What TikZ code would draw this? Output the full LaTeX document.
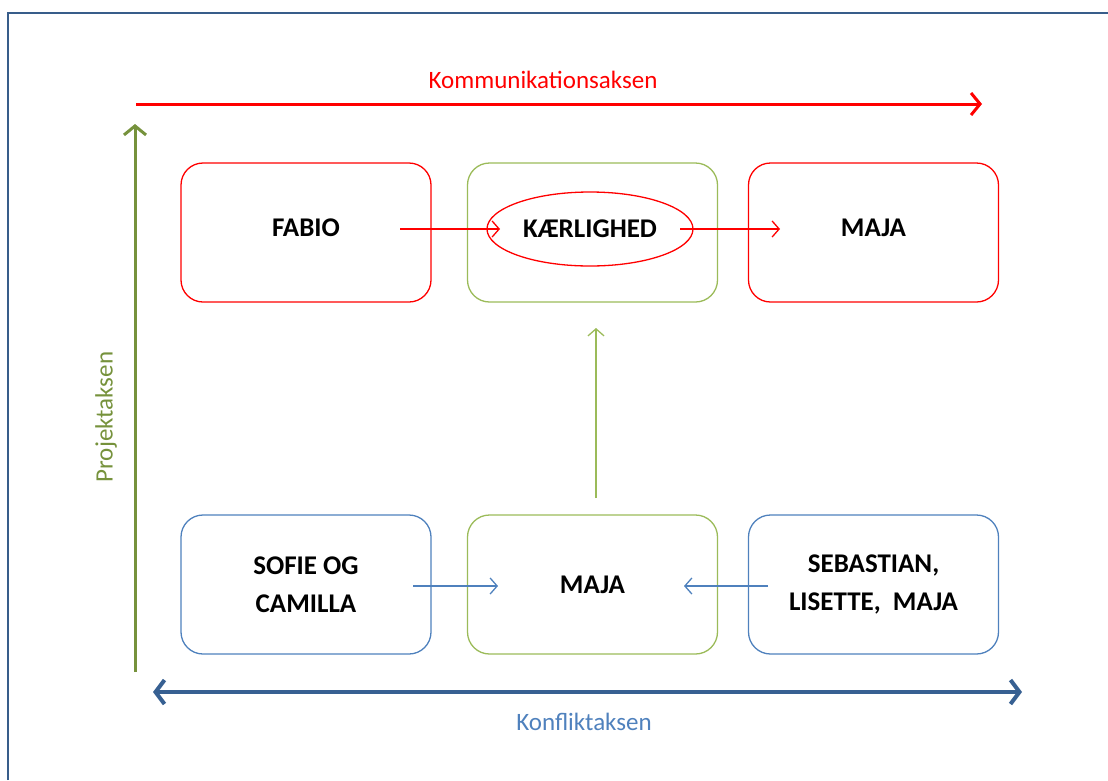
\documentclass[tikz,border=0pt]{standalone}
\usepackage{fontspec}
\setmainfont{Carlito}
\usetikzlibrary{arrows.meta,shapes.geometric}
\definecolor{frameblue}{RGB}{56,93,138}
\definecolor{boxblue}{RGB}{79,129,189}
\definecolor{axisblue}{RGB}{55,96,146}
\definecolor{boxgreen}{RGB}{155,187,89}
\definecolor{axisgreen}{RGB}{118,146,60}
\definecolor{boxred}{RGB}{255,0,0}

\begin{document}
\begin{tikzpicture}[x=1pt, y=-1pt,
  box/.style={draw, rounded corners=22pt, line width=1.3pt, minimum width=250pt,
    minimum height=139pt, inner sep=0pt, align=center,
    font=\bfseries\fontsize{27}{38}\selectfont},
  raised/.style={text depth=9pt},
  axislabel/.style={font=\fontsize{25}{28}\selectfont},
  thin arrow/.style={line width=1.3pt, -{Straight Barb[length=7pt,width=16pt]}}]
\useasboundingbox (0,0) rectangle (1108,780);
\draw [frameblue, line width=1.5pt] (8,780) -- (8,13) -- (1108,13);

% axes
\coordinate (kstart) at (136,104);
\coordinate (kend) at (982,104);
\draw [boxred, line width=3pt, -{Straight Barb[length=9pt,width=22pt]}] (kstart) -- (kend);
\node [axislabel, text=boxred] (kom) at (543,80) {Kommunikationsaksen};
\coordinate (pstart) at (135,672);
\coordinate (pend) at (135,124);
\draw [axisgreen, line width=3pt, -{Straight Barb[length=9pt,width=22pt]}] (pstart) -- (pend);
\node [axislabel, text=axisgreen, rotate=90] (proj) at (106,417) {Projektaksen};
\coordinate (fstart) at (153,692);
\coordinate (fend) at (1022,692);
\draw [axisblue, line width=4pt, {Straight Barb[length=9pt,width=24pt]}-{Straight Barb[length=9pt,width=24pt]}] (fstart) -- (fend);
\node [axislabel, text=boxblue] (konf) at (584,722) {Konfliktaksen};

% top row
\node [box, raised, boxred, text=black] (fabio) at (306,232.5) {FABIO};
\node [box, boxgreen] (mid) at (592.5,232.5) {};
\node [draw=boxred, line width=1.3pt, ellipse, minimum width=206pt, minimum height=74pt,
  inner sep=0pt, font=\bfseries\fontsize{27}{38}\selectfont] (love) at (590,229) {KÆRLIGHED};
\node [box, raised, boxred, text=black] (majat) at (873.5,232.5) {MAJA};

% bottom row
\node [box, boxblue, text=black] (sofie) at (306,584.5) {SOFIE OG\\CAMILLA};
\node [box, boxgreen, text=black] (majab) at (592.5,584.5) {MAJA};
\node [box, boxblue, text=black] (seb) at (873.5,584.5) {SEBASTIAN,\\LISETTE,~ MAJA};

% arrows
\coordinate (a1) at (400,229);
\coordinate (a2) at (500,229);
\coordinate (a3) at (680,229);
\coordinate (a4) at (780,229);
\draw [thin arrow, boxred] (a1) -- (a2);
\draw [thin arrow, boxred] (a3) -- (a4);
\coordinate (b1) at (596,498);
\coordinate (b2) at (596,328);
\draw [thin arrow, boxgreen] (b1) -- (b2);
\coordinate (c1) at (413,586);
\coordinate (c2) at (498,586);
\coordinate (c3) at (768,586);
\coordinate (c4) at (684,586);
\draw [thin arrow, boxblue] (c1) -- (c2);
\draw [thin arrow, boxblue] (c3) -- (c4);
\end{tikzpicture}
\end{document}
